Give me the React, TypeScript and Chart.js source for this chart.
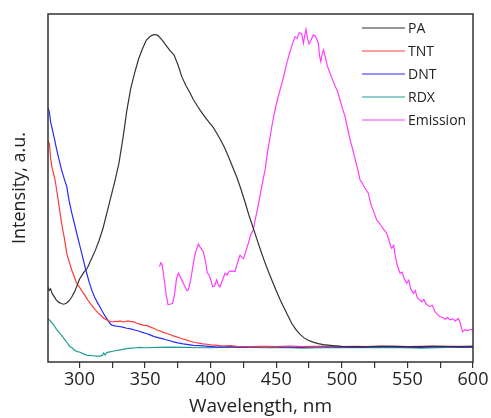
import React, { useEffect, useRef } from "react";
import { Chart, registerables } from "chart.js";

Chart.register(...registerables);

// Wavelength ticks (nm)
const xMin = 276;
const xMax = 600;
const tickStep = 25;

const paX = [276, 277, 278, 279, 280, 282, 284, 286, 288, 290, 292, 294, 296, 298, 300, 303, 306, 309, 312, 315, 318, 321, 324, 327, 330, 333, 336, 339, 342, 345, 348, 351, 354, 356, 358, 360, 363, 366, 369, 372, 375, 378, 381, 384, 387, 390, 393, 396, 399, 402, 405, 408, 411, 414, 417, 420, 423, 426, 429, 432, 435, 438, 441, 444, 447, 450, 453, 456, 459, 462, 465, 468, 471, 474, 478, 482, 486, 491, 500, 510, 520, 530, 540, 550, 560, 570, 580, 590, 600];
const paY = [21.5, 20.6, 21.0, 19.8, 19.2, 18.0, 17.2, 16.8, 16.6, 16.9, 17.6, 18.6, 20.0, 21.8, 23.8, 25.6, 27.0, 29.5, 32.0, 35.0, 38.5, 43.0, 47.5, 52.0, 57.0, 64.0, 72.0, 78.5, 83.0, 87.0, 90.0, 92.5, 93.6, 94.0, 94.1, 93.8, 92.5, 91.0, 89.5, 88.3, 85.5, 82.0, 79.5, 77.5, 75.3, 73.5, 71.8, 70.2, 68.8, 67.4, 65.5, 63.5, 61.3, 58.6, 55.8, 53.0, 49.8, 46.2, 42.4, 39.0, 35.6, 32.2, 29.0, 26.0, 23.2, 20.5, 17.9, 15.5, 13.2, 11.0, 9.3, 8.0, 7.0, 6.3, 5.7, 5.3, 5.0, 4.8, 4.5, 4.4, 4.4, 4.5, 4.5, 4.4, 4.4, 4.5, 4.5, 4.4, 4.5];

const tntX = [276, 277, 278, 279, 280, 281.4, 283, 285.2, 287, 288.5, 290.3, 292, 294, 296, 297.9, 300, 302, 304, 306, 308, 310, 312, 314, 316.5, 318.5, 320.8, 323, 325, 327, 329, 331, 333, 335, 337, 339, 341, 343.5, 346, 348.5, 351, 353.8, 356.5, 359, 361.5, 364, 366.5, 369, 371.5, 374, 376.5, 379, 381.8, 385, 388, 391, 394, 397, 400, 405, 410, 415, 420, 430, 440, 450, 460, 470, 480, 490, 500, 510, 520, 530, 540, 550, 560, 570, 580, 590, 600];
const tntY = [63.5, 62.8, 58.5, 56.0, 54.5, 52.3, 48.5, 42.8, 38.5, 35.5, 31.2, 29.0, 26.5, 24.5, 22.6, 21.5, 20.3, 19.2, 18.0, 16.9, 16.0, 15.0, 14.2, 13.3, 12.6, 12.1, 11.7, 11.5, 11.7, 11.6, 11.8, 11.5, 11.6, 11.8, 11.6, 11.6, 11.2, 10.9, 10.6, 10.5, 10.1, 9.7, 9.2, 8.9, 8.5, 8.2, 7.9, 7.5, 7.2, 6.9, 6.6, 6.3, 5.9, 5.6, 5.4, 5.2, 5.1, 4.9, 4.8, 4.6, 4.7, 4.5, 4.4, 4.5, 4.4, 4.6, 4.4, 4.5, 4.6, 4.4, 4.5, 4.4, 4.6, 4.5, 4.4, 4.5, 4.6, 4.4, 4.5, 4.5];

const dntX = [276, 277, 278, 279.5, 281, 282.7, 284.5, 286.5, 288.5, 290.3, 292, 294, 296, 297.9, 300, 302, 303.8, 305.5, 307.5, 309.5, 311.5, 313.5, 315.5, 317.5, 319.5, 321.5, 323, 324.5, 327, 330, 333, 336, 339, 342, 345, 348, 351, 353.8, 357, 360, 363, 366, 369, 371.6, 375, 379, 383, 387, 391.9, 398, 405, 415, 425, 440, 455, 470, 485, 500, 515, 530, 545, 560, 575, 590, 600];
const dntY = [73.0, 71.9, 69.0, 66.5, 64.0, 60.9, 58.0, 55.0, 52.5, 50.4, 46.5, 43.0, 40.0, 37.0, 33.8, 30.8, 28.0, 25.5, 22.8, 20.5, 18.7, 17.2, 15.9, 14.5, 13.2, 12.1, 11.2, 10.6, 10.4, 10.2, 10.0, 9.7, 9.5, 9.2, 8.9, 8.5, 8.2, 7.8, 7.3, 7.0, 6.7, 6.4, 6.1, 5.8, 5.5, 5.2, 5.0, 4.8, 4.7, 4.5, 4.3, 4.4, 4.2, 4.4, 4.3, 4.2, 4.4, 4.3, 4.2, 4.4, 4.3, 4.2, 4.4, 4.3, 4.3];

const rdxX = [276, 277, 278.5, 280, 281.5, 282.7, 284.5, 286.5, 288.5, 290.5, 292.8, 294.5, 296.5, 298.5, 300.5, 302.5, 305.5, 308, 310.5, 313, 315.5, 317.5, 318.5, 319.5, 320.8, 323, 325.5, 328, 331, 334, 337, 340, 343, 346, 350, 360, 370, 380, 395, 410, 425, 440, 455, 470, 485, 500, 520, 540, 560, 580, 600];
const rdxY = [12.5, 12.1, 11.5, 10.8, 10.0, 9.2, 8.5, 7.6, 6.6, 5.6, 4.4, 4.0, 3.3, 3.0, 2.8, 2.4, 2.0, 1.9, 1.8, 1.7, 1.7, 1.9, 2.6, 2.0, 2.7, 2.9, 3.1, 3.3, 3.5, 3.7, 3.9, 4.0, 4.1, 4.2, 4.1, 4.2, 4.3, 4.2, 4.1, 4.2, 4.3, 4.1, 4.2, 4.0, 4.1, 4.2, 4.1, 4.2, 4.0, 4.2, 4.3];

const emX = [361, 362, 363, 364.5, 366, 367.5, 369, 371, 372.5, 374, 375.4, 376.5, 378, 380, 382, 383, 385, 386.8, 388.5, 390.6, 392, 394.4, 396, 397.5, 398.5, 400, 401.5, 403, 404.6, 405.5, 407, 409, 411, 412.5, 414, 416, 418.6, 420, 422.4, 424, 425, 427, 428.7, 430.5, 432.5, 434, 436, 438, 440, 441.5, 443, 445, 446.6, 448, 450, 452.9, 455, 458, 460, 462, 464.3, 466, 467.5, 469.4, 470.7, 471.8, 472.7, 473.8, 475, 476.5, 478.3, 480, 482.1, 483, 484, 485, 486, 487.5, 489, 491, 493, 495, 497, 498.6, 500.5, 502.5, 504.5, 506.3, 508, 510, 512, 513.9, 515.5, 517.5, 520.2, 522, 524, 526.6, 528.5, 530.5, 532.5, 534.2, 536, 537, 538, 539.5, 541, 542.5, 544.4, 546, 547.5, 549.5, 551, 552.5, 554.6, 556, 557.5, 559, 560.9, 562.5, 564.5, 567.2, 569, 571, 573, 574.8, 577, 579, 580.5, 582.5, 584.5, 586.5, 588.8, 590, 591, 592.1, 594, 596, 598, 600];
const emY = [27.4, 28.5, 28.0, 24.0, 19.5, 16.5, 16.6, 16.9, 19.5, 24.0, 25.5, 24.8, 23.6, 22.0, 20.5, 20.7, 24.0, 28.4, 31.5, 33.9, 33.0, 31.7, 29.0, 25.5, 25.2, 23.8, 21.6, 21.8, 23.6, 22.5, 21.6, 23.5, 25.5, 25.0, 26.0, 26.2, 26.0, 28.0, 30.7, 30.0, 29.7, 32.0, 34.1, 36.5, 38.0, 41.0, 44.5, 48.5, 52.5, 55.2, 59.5, 64.0, 67.6, 70.5, 74.0, 78.2, 81.0, 85.8, 88.5, 91.0, 93.5, 93.0, 94.6, 94.4, 91.6, 94.0, 95.6, 93.0, 91.4, 92.5, 94.0, 93.6, 91.6, 88.0, 86.3, 88.5, 89.7, 87.5, 85.0, 83.0, 81.0, 79.2, 77.5, 75.3, 72.8, 70.5, 67.0, 63.8, 61.5, 58.5, 55.5, 52.3, 51.5, 50.0, 48.5, 45.5, 43.5, 40.8, 40.0, 38.8, 37.8, 37.0, 35.0, 33.5, 32.7, 33.5, 30.0, 27.5, 25.5, 25.8, 24.0, 22.6, 23.5, 21.0, 19.7, 20.5, 18.5, 18.0, 17.3, 18.0, 16.5, 15.9, 16.3, 14.5, 13.6, 13.0, 12.8, 12.3, 12.8, 12.1, 12.4, 11.8, 12.5, 11.6, 10.0, 8.7, 9.3, 9.0, 9.4, 9.2];

const seriesNames = ["PA", "TNT", "DNT", "RDX", "Emission"];
const seriesColors = ["#333333", "#ff3a3a", "#2a2aff", "#1e9e96", "#ff3cff"];
const seriesX = [paX, tntX, dntX, rdxX, emX];
const seriesY = [paY, tntY, dntY, rdxY, emY];

const FONT = "'Open Sans', 'DejaVu Sans', sans-serif";

const framePlugin = {
  id: "frameAndLegend",
  afterDraw(chart: any) {
    const { ctx, chartArea } = chart;
    const { left, top, right, bottom } = chartArea;
    ctx.save();
    ctx.strokeStyle = "#333333";
    ctx.lineWidth = 1.5;
    ctx.strokeRect(left, top, right - left, bottom - top);
    // legend inside plot
    ctx.font = `14px ${FONT}`;
    ctx.textBaseline = "middle";
    ctx.textAlign = "left";
    chart.data.datasets.forEach((ds: any, i: number) => {
      const y = top + 14 + i * 23;
      ctx.strokeStyle = ds.borderColor;
      ctx.lineWidth = 1.2;
      ctx.beginPath();
      ctx.moveTo(right - 111, y);
      ctx.lineTo(right - 68, y);
      ctx.stroke();
      ctx.fillStyle = "#222222";
      ctx.fillText(ds.label, right - 65, y + 1);
    });
    ctx.restore();
  },
};

export default function App() {
  const ref = useRef<HTMLCanvasElement>(null);
  useEffect(() => {
    document.body.style.margin = "0";
    const canvas = ref.current;
    if (!canvas) return;
    const chart = new Chart(canvas, {
      type: "line",
      data: {
        datasets: seriesNames.map((name, i) => ({
          label: name,
          data: seriesX[i].map((x, j) => ({ x, y: seriesY[i][j] })),
          borderColor: seriesColors[i],
          backgroundColor: seriesColors[i],
          borderWidth: 1.2,
          pointRadius: 0,
          tension: 0,
          fill: false,
        })),
      },
      options: {
        responsive: false,
        animation: false,
        layout: { padding: { top: 14, right: 18, left: 0, bottom: 0 } },
        plugins: { legend: { display: false }, tooltip: { enabled: false } },
        scales: {
          x: {
            type: "linear",
            min: xMin,
            max: xMax,
            afterFit: (axis: any) => {
              axis.height = 56;
            },
            border: { display: false },
            grid: { drawOnChartArea: false, drawTicks: true, tickLength: 6, color: "#333333", lineWidth: 1.2 },
            ticks: {
              stepSize: tickStep,
              includeBounds: false,
              autoSkip: false,
              maxRotation: 0,
              padding: 1,
              color: "#222222",
              font: { family: FONT, size: 18 },
              callback: (v: any) => (Number(v) % 50 === 0 ? String(v) : ""),
            },
            title: {
              display: true,
              text: "Wavelength, nm",
              color: "#222222",
              font: { family: FONT, size: 19 },
              padding: { top: 0, bottom: 0 },
            },
          },
          y: {
            type: "linear",
            min: 0,
            max: 100,
            afterFit: (axis: any) => {
              axis.width = 48;
            },
            border: { display: false },
            grid: { display: false },
            ticks: { display: false },
            title: {
              display: true,
              text: "Intensity, a.u.",
              color: "#222222",
              font: { family: FONT, size: 18 },
              padding: { top: 9, bottom: 0 },
            },
          },
        },
      },
      plugins: [framePlugin],
    } as any);
    return () => chart.destroy();
  }, []);
  return (
    <div style={{ width: 491, height: 418 }}>
      <canvas ref={ref} width={491} height={418} />
    </div>
  );
}
